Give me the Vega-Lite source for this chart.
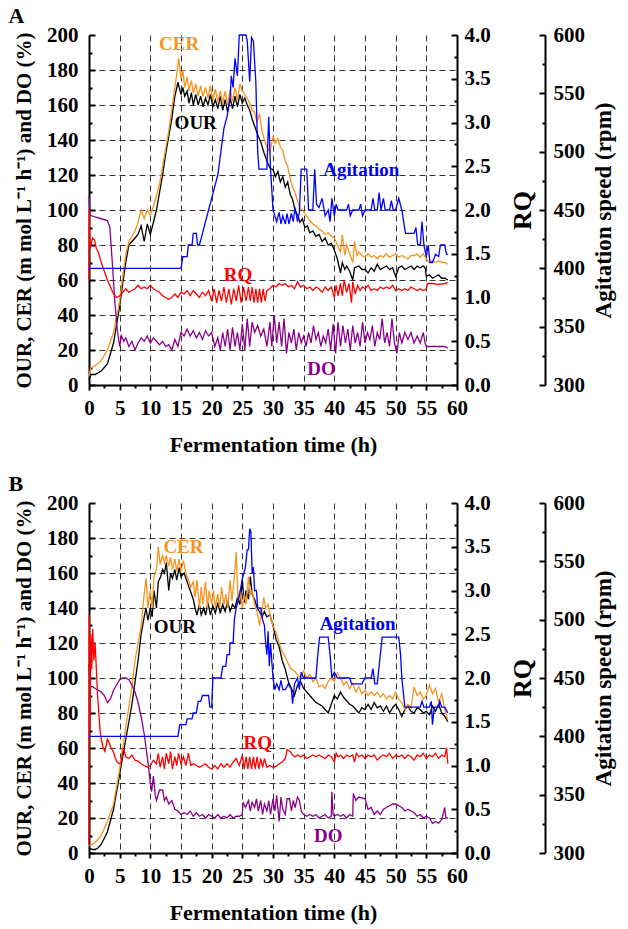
{
"$schema":"https://vega.github.io/schema/vega-lite/v6.json",
"padding":{"left":8,"top":5,"right":5,"bottom":5},
"spacing":18,
"config":{
 "view":{"stroke":null},
 "font":"Liberation Serif",
 "axis":{"labelFont":"Liberation Serif","labelFontWeight":"bold","labelFontSize":21,"labelColor":"#000","labelOverlap":false,"titleFont":"Liberation Serif","titleFontWeight":"bold","titleFontSize":21,"titleColor":"#000","domainColor":"#000","domainWidth":2,"tickColor":"#000","tickWidth":2,"gridColor":"#333","gridDash":[6,4],"gridWidth":1},
 "axisY":{"tickSize":-6,"labelPadding":17},
 "axisX":{"tickSize":5,"labelPadding":7,"labelFlush":false},
 "title":{"font":"Liberation Serif","fontSize":22,"fontWeight":"bold","anchor":"start","frame":"bounds","offset":-4,"dx":-5,"color":"#000"}
},
"datasets":{
"A":[
{"s":"OUR","t":0,"v":3},{"s":"OUR","t":0.3,"v":6},{"s":"OUR","t":1,"v":6},{"s":"OUR","t":2,"v":8},{"s":"OUR","t":3,"v":12},{"s":"OUR","t":4,"v":24},{"s":"OUR","t":5,"v":45},{"s":"OUR","t":5.5,"v":58},{"s":"OUR","t":6,"v":70},{"s":"OUR","t":6.5,"v":80},{"s":"OUR","t":7,"v":82},{"s":"OUR","t":7.5,"v":84},{"s":"OUR","t":8,"v":86},{"s":"OUR","t":8.5,"v":91},{"s":"OUR","t":9,"v":82},{"s":"OUR","t":9.5,"v":92},{"s":"OUR","t":10,"v":86},{"s":"OUR","t":10.5,"v":93},{"s":"OUR","t":11,"v":100},{"s":"OUR","t":11.5,"v":110},{"s":"OUR","t":12,"v":120},{"s":"OUR","t":12.5,"v":132},{"s":"OUR","t":13,"v":142},{"s":"OUR","t":13.5,"v":152},{"s":"OUR","t":14,"v":165},{"s":"OUR","t":14.5,"v":173},{"s":"OUR","t":15,"v":166},{"s":"OUR","t":15.3,"v":170},{"s":"OUR","t":15.6,"v":165},{"s":"OUR","t":16,"v":168},{"s":"OUR","t":16.3,"v":161},{"s":"OUR","t":16.7,"v":167},{"s":"OUR","t":17,"v":160},{"s":"OUR","t":17.4,"v":166},{"s":"OUR","t":17.8,"v":160},{"s":"OUR","t":18.2,"v":165},{"s":"OUR","t":18.6,"v":159},{"s":"OUR","t":19,"v":164},{"s":"OUR","t":19.4,"v":160},{"s":"OUR","t":19.8,"v":166},{"s":"OUR","t":20.2,"v":159},{"s":"OUR","t":20.6,"v":163},{"s":"OUR","t":21,"v":158},{"s":"OUR","t":21.4,"v":165},{"s":"OUR","t":21.8,"v":157},{"s":"OUR","t":22.2,"v":163},{"s":"OUR","t":22.6,"v":156},{"s":"OUR","t":23,"v":164},{"s":"OUR","t":23.4,"v":158},{"s":"OUR","t":23.8,"v":165},{"s":"OUR","t":24.2,"v":159},{"s":"OUR","t":24.6,"v":166},{"s":"OUR","t":25,"v":161},{"s":"OUR","t":25.4,"v":164},{"s":"OUR","t":25.8,"v":160},{"s":"OUR","t":26.2,"v":157},{"s":"OUR","t":26.6,"v":152},{"s":"OUR","t":27,"v":148},{"s":"OUR","t":27.5,"v":143},{"s":"OUR","t":28,"v":139},{"s":"OUR","t":28.5,"v":133},{"s":"OUR","t":29,"v":128},{"s":"OUR","t":29.5,"v":124},{"s":"OUR","t":30,"v":123},{"s":"OUR","t":30.4,"v":119},{"s":"OUR","t":30.8,"v":122},{"s":"OUR","t":31.2,"v":116},{"s":"OUR","t":31.6,"v":119},{"s":"OUR","t":32,"v":113},{"s":"OUR","t":32.4,"v":116},{"s":"OUR","t":32.8,"v":109},{"s":"OUR","t":33.2,"v":106},{"s":"OUR","t":33.6,"v":100},{"s":"OUR","t":34,"v":97},{"s":"OUR","t":34.4,"v":93},{"s":"OUR","t":34.8,"v":95},{"s":"OUR","t":35.2,"v":90},{"s":"OUR","t":35.6,"v":91},{"s":"OUR","t":36,"v":87},{"s":"OUR","t":36.5,"v":88},{"s":"OUR","t":37,"v":85},{"s":"OUR","t":37.5,"v":86},{"s":"OUR","t":38,"v":82},{"s":"OUR","t":38.5,"v":84},{"s":"OUR","t":39,"v":80},{"s":"OUR","t":39.5,"v":81},{"s":"OUR","t":40,"v":77},{"s":"OUR","t":40.5,"v":72},{"s":"OUR","t":41,"v":64},{"s":"OUR","t":41.3,"v":70},{"s":"OUR","t":41.7,"v":66},{"s":"OUR","t":42,"v":68},{"s":"OUR","t":42.5,"v":65},{"s":"OUR","t":43,"v":60},{"s":"OUR","t":43.3,"v":67},{"s":"OUR","t":44,"v":68},{"s":"OUR","t":44.5,"v":66},{"s":"OUR","t":45,"v":66},{"s":"OUR","t":45.5,"v":64},{"s":"OUR","t":46,"v":67},{"s":"OUR","t":46.5,"v":65},{"s":"OUR","t":47,"v":69},{"s":"OUR","t":47.5,"v":66},{"s":"OUR","t":48,"v":67},{"s":"OUR","t":48.5,"v":68},{"s":"OUR","t":49,"v":66},{"s":"OUR","t":49.5,"v":67},{"s":"OUR","t":50,"v":62},{"s":"OUR","t":50.5,"v":67},{"s":"OUR","t":51,"v":68},{"s":"OUR","t":51.5,"v":66},{"s":"OUR","t":52,"v":67},{"s":"OUR","t":52.5,"v":68},{"s":"OUR","t":53,"v":66},{"s":"OUR","t":53.5,"v":68},{"s":"OUR","t":54,"v":67},{"s":"OUR","t":54.5,"v":68},{"s":"OUR","t":54.8,"v":67},{"s":"OUR","t":55,"v":62},{"s":"OUR","t":55.5,"v":63},{"s":"OUR","t":56,"v":61},{"s":"OUR","t":56.5,"v":62},{"s":"OUR","t":57,"v":63},{"s":"OUR","t":57.5,"v":61},{"s":"OUR","t":58,"v":61},{"s":"OUR","t":58.5,"v":60},
{"s":"CER","t":0,"v":5},{"s":"CER","t":0.3,"v":10},{"s":"CER","t":1,"v":11},{"s":"CER","t":2,"v":14},{"s":"CER","t":3,"v":20},{"s":"CER","t":4,"v":30},{"s":"CER","t":5,"v":48},{"s":"CER","t":5.5,"v":62},{"s":"CER","t":6,"v":75},{"s":"CER","t":6.5,"v":82},{"s":"CER","t":7,"v":85},{"s":"CER","t":7.5,"v":88},{"s":"CER","t":8,"v":93},{"s":"CER","t":8.5,"v":100},{"s":"CER","t":9,"v":95},{"s":"CER","t":9.5,"v":100},{"s":"CER","t":10,"v":97},{"s":"CER","t":10.5,"v":102},{"s":"CER","t":11,"v":108},{"s":"CER","t":11.5,"v":115},{"s":"CER","t":12,"v":125},{"s":"CER","t":12.5,"v":135},{"s":"CER","t":13,"v":145},{"s":"CER","t":13.5,"v":158},{"s":"CER","t":14,"v":170},{"s":"CER","t":14.4,"v":180},{"s":"CER","t":14.6,"v":187},{"s":"CER","t":15,"v":175},{"s":"CER","t":15.3,"v":180},{"s":"CER","t":15.6,"v":170},{"s":"CER","t":16,"v":176},{"s":"CER","t":16.3,"v":168},{"s":"CER","t":16.7,"v":174},{"s":"CER","t":17,"v":167},{"s":"CER","t":17.4,"v":172},{"s":"CER","t":17.8,"v":165},{"s":"CER","t":18.2,"v":171},{"s":"CER","t":18.6,"v":165},{"s":"CER","t":19,"v":170},{"s":"CER","t":19.4,"v":164},{"s":"CER","t":19.8,"v":171},{"s":"CER","t":20.2,"v":163},{"s":"CER","t":20.6,"v":169},{"s":"CER","t":21,"v":162},{"s":"CER","t":21.4,"v":168},{"s":"CER","t":21.8,"v":161},{"s":"CER","t":22.2,"v":168},{"s":"CER","t":22.6,"v":160},{"s":"CER","t":23,"v":169},{"s":"CER","t":23.4,"v":162},{"s":"CER","t":23.8,"v":170},{"s":"CER","t":24.2,"v":163},{"s":"CER","t":24.6,"v":172},{"s":"CER","t":25,"v":168},{"s":"CER","t":25.4,"v":166},{"s":"CER","t":25.8,"v":164},{"s":"CER","t":26.2,"v":161},{"s":"CER","t":26.6,"v":157},{"s":"CER","t":27,"v":156},{"s":"CER","t":27.4,"v":150},{"s":"CER","t":27.8,"v":155},{"s":"CER","t":28.2,"v":145},{"s":"CER","t":28.6,"v":140},{"s":"CER","t":29,"v":136},{"s":"CER","t":29.5,"v":133},{"s":"CER","t":30,"v":142},{"s":"CER","t":30.4,"v":138},{"s":"CER","t":30.8,"v":141},{"s":"CER","t":31.2,"v":136},{"s":"CER","t":31.6,"v":134},{"s":"CER","t":32,"v":128},{"s":"CER","t":32.4,"v":125},{"s":"CER","t":32.8,"v":118},{"s":"CER","t":33.2,"v":113},{"s":"CER","t":33.6,"v":110},{"s":"CER","t":34,"v":105},{"s":"CER","t":34.4,"v":101},{"s":"CER","t":34.8,"v":100},{"s":"CER","t":35.2,"v":98},{"s":"CER","t":35.6,"v":96},{"s":"CER","t":36,"v":94},{"s":"CER","t":36.5,"v":92},{"s":"CER","t":37,"v":91},{"s":"CER","t":37.5,"v":89},{"s":"CER","t":38,"v":88},{"s":"CER","t":38.5,"v":86},{"s":"CER","t":39,"v":87},{"s":"CER","t":39.5,"v":85},{"s":"CER","t":40,"v":84},{"s":"CER","t":40.5,"v":80},{"s":"CER","t":41,"v":76},{"s":"CER","t":41.3,"v":86},{"s":"CER","t":41.7,"v":74},{"s":"CER","t":42,"v":80},{"s":"CER","t":42.5,"v":75},{"s":"CER","t":43,"v":70},{"s":"CER","t":43.3,"v":82},{"s":"CER","t":43.7,"v":74},{"s":"CER","t":44,"v":76},{"s":"CER","t":44.5,"v":74},{"s":"CER","t":45,"v":73},{"s":"CER","t":45.5,"v":75},{"s":"CER","t":46,"v":73},{"s":"CER","t":46.5,"v":74},{"s":"CER","t":47,"v":72},{"s":"CER","t":47.5,"v":74},{"s":"CER","t":48,"v":73},{"s":"CER","t":48.5,"v":75},{"s":"CER","t":49,"v":73},{"s":"CER","t":49.5,"v":74},{"s":"CER","t":50,"v":75},{"s":"CER","t":50.5,"v":73},{"s":"CER","t":51,"v":74},{"s":"CER","t":51.5,"v":73},{"s":"CER","t":52,"v":72},{"s":"CER","t":52.5,"v":74},{"s":"CER","t":53,"v":74},{"s":"CER","t":53.5,"v":75},{"s":"CER","t":54,"v":73},{"s":"CER","t":54.5,"v":75},{"s":"CER","t":55,"v":72},{"s":"CER","t":55.5,"v":70},{"s":"CER","t":56,"v":71},{"s":"CER","t":56.5,"v":70},{"s":"CER","t":57,"v":71},{"s":"CER","t":57.5,"v":70},{"s":"CER","t":58,"v":70},{"s":"CER","t":58.5,"v":69},
{"s":"RQ","t":0,"v":1.2},{"s":"RQ","t":0.05,"v":2.0},{"s":"RQ","t":0.15,"v":1.55},{"s":"RQ","t":0.3,"v":1.6},{"s":"RQ","t":0.6,"v":1.68},{"s":"RQ","t":0.9,"v":1.66},{"s":"RQ","t":1.2,"v":1.56},{"s":"RQ","t":1.5,"v":1.52},{"s":"RQ","t":2,"v":1.4},{"s":"RQ","t":2.5,"v":1.3},{"s":"RQ","t":3,"v":1.2},{"s":"RQ","t":3.5,"v":1.12},{"s":"RQ","t":4,"v":1.04},{"s":"RQ","t":4.5,"v":1.0},{"s":"RQ","t":5,"v":1.02},{"s":"RQ","t":5.5,"v":1.06},{"s":"RQ","t":6,"v":1.1},{"s":"RQ","t":6.5,"v":1.06},{"s":"RQ","t":7,"v":1.08},{"s":"RQ","t":7.5,"v":1.1},{"s":"RQ","t":8,"v":1.14},{"s":"RQ","t":8.5,"v":1.1},{"s":"RQ","t":9,"v":1.12},{"s":"RQ","t":9.5,"v":1.1},{"s":"RQ","t":10,"v":1.14},{"s":"RQ","t":10.5,"v":1.1},{"s":"RQ","t":11,"v":1.08},{"s":"RQ","t":11.5,"v":1.06},{"s":"RQ","t":12,"v":1.02},{"s":"RQ","t":12.5,"v":1.0},{"s":"RQ","t":13,"v":0.98},{"s":"RQ","t":13.5,"v":1.0},{"s":"RQ","t":14,"v":1.04},{"s":"RQ","t":14.5,"v":1.0},{"s":"RQ","t":15,"v":1.06},{"s":"RQ","t":15.5,"v":1.04},{"s":"RQ","t":16,"v":1.08},{"s":"RQ","t":16.5,"v":1.02},{"s":"RQ","t":17,"v":1.08},{"s":"RQ","t":17.5,"v":1.04},{"s":"RQ","t":18,"v":1.0},{"s":"RQ","t":18.5,"v":1.06},{"s":"RQ","t":19,"v":1.02},{"s":"RQ","t":19.5,"v":1.08},{"s":"RQ","t":20,"v":0.96},{"s":"RQ","t":20.4,"v":1.1},{"s":"RQ","t":20.8,"v":0.94},{"s":"RQ","t":21.2,"v":1.08},{"s":"RQ","t":21.6,"v":0.96},{"s":"RQ","t":22,"v":1.12},{"s":"RQ","t":22.4,"v":0.94},{"s":"RQ","t":22.8,"v":1.1},{"s":"RQ","t":23.2,"v":0.92},{"s":"RQ","t":23.6,"v":1.1},{"s":"RQ","t":24,"v":0.96},{"s":"RQ","t":24.4,"v":1.14},{"s":"RQ","t":24.8,"v":0.94},{"s":"RQ","t":25.2,"v":1.12},{"s":"RQ","t":25.6,"v":0.96},{"s":"RQ","t":26,"v":1.12},{"s":"RQ","t":26.3,"v":0.96},{"s":"RQ","t":26.6,"v":1.12},{"s":"RQ","t":26.9,"v":0.94},{"s":"RQ","t":27.2,"v":1.1},{"s":"RQ","t":27.5,"v":0.94},{"s":"RQ","t":27.8,"v":1.1},{"s":"RQ","t":28.1,"v":0.94},{"s":"RQ","t":28.4,"v":1.1},{"s":"RQ","t":28.7,"v":0.96},{"s":"RQ","t":29,"v":1.08},{"s":"RQ","t":29.5,"v":1.1},{"s":"RQ","t":30,"v":1.14},{"s":"RQ","t":30.5,"v":1.12},{"s":"RQ","t":31,"v":1.16},{"s":"RQ","t":31.5,"v":1.14},{"s":"RQ","t":32,"v":1.16},{"s":"RQ","t":32.5,"v":1.12},{"s":"RQ","t":33,"v":1.14},{"s":"RQ","t":33.5,"v":1.1},{"s":"RQ","t":34,"v":1.18},{"s":"RQ","t":34.5,"v":1.12},{"s":"RQ","t":35,"v":1.14},{"s":"RQ","t":35.5,"v":1.1},{"s":"RQ","t":36,"v":1.12},{"s":"RQ","t":36.5,"v":1.08},{"s":"RQ","t":37,"v":1.12},{"s":"RQ","t":37.5,"v":1.1},{"s":"RQ","t":38,"v":1.06},{"s":"RQ","t":38.5,"v":1.12},{"s":"RQ","t":39,"v":1.08},{"s":"RQ","t":39.5,"v":1.12},{"s":"RQ","t":40,"v":1.0},{"s":"RQ","t":40.3,"v":1.14},{"s":"RQ","t":40.6,"v":1.02},{"s":"RQ","t":41,"v":1.16},{"s":"RQ","t":41.3,"v":1.02},{"s":"RQ","t":41.6,"v":1.2},{"s":"RQ","t":42,"v":1.06},{"s":"RQ","t":42.4,"v":1.16},{"s":"RQ","t":42.8,"v":0.94},{"s":"RQ","t":43,"v":1.18},{"s":"RQ","t":43.4,"v":1.04},{"s":"RQ","t":43.8,"v":1.14},{"s":"RQ","t":44.2,"v":1.08},{"s":"RQ","t":44.6,"v":1.12},{"s":"RQ","t":45,"v":1.1},{"s":"RQ","t":45.5,"v":1.14},{"s":"RQ","t":46,"v":1.08},{"s":"RQ","t":46.5,"v":1.1},{"s":"RQ","t":47,"v":1.08},{"s":"RQ","t":47.5,"v":1.12},{"s":"RQ","t":48,"v":1.1},{"s":"RQ","t":48.5,"v":1.12},{"s":"RQ","t":49,"v":1.1},{"s":"RQ","t":49.5,"v":1.14},{"s":"RQ","t":50,"v":1.08},{"s":"RQ","t":50.5,"v":1.1},{"s":"RQ","t":51,"v":1.08},{"s":"RQ","t":51.5,"v":1.1},{"s":"RQ","t":52,"v":1.08},{"s":"RQ","t":52.5,"v":1.12},{"s":"RQ","t":53,"v":1.1},{"s":"RQ","t":53.5,"v":1.08},{"s":"RQ","t":54,"v":1.1},{"s":"RQ","t":54.5,"v":1.08},{"s":"RQ","t":55,"v":1.1},{"s":"RQ","t":55.2,"v":1.16},{"s":"RQ","t":56,"v":1.16},{"s":"RQ","t":57,"v":1.15},{"s":"RQ","t":58,"v":1.16},{"s":"RQ","t":58.5,"v":1.17},
{"s":"DO","t":0,"v":108},{"s":"DO","t":0.2,"v":97},{"s":"DO","t":1,"v":96},{"s":"DO","t":2,"v":95},{"s":"DO","t":3,"v":94},{"s":"DO","t":3.4,"v":90},{"s":"DO","t":3.8,"v":70},{"s":"DO","t":4.2,"v":48},{"s":"DO","t":4.6,"v":32},{"s":"DO","t":5,"v":22},{"s":"DO","t":5.3,"v":28},{"s":"DO","t":5.7,"v":25},{"s":"DO","t":6,"v":27},{"s":"DO","t":6.5,"v":22},{"s":"DO","t":7,"v":25},{"s":"DO","t":7.5,"v":20},{"s":"DO","t":8,"v":24},{"s":"DO","t":8.5,"v":27},{"s":"DO","t":9,"v":25},{"s":"DO","t":9.5,"v":28},{"s":"DO","t":10,"v":24},{"s":"DO","t":10.5,"v":27},{"s":"DO","t":11,"v":25},{"s":"DO","t":11.5,"v":23},{"s":"DO","t":12,"v":25},{"s":"DO","t":12.5,"v":22},{"s":"DO","t":13,"v":23},{"s":"DO","t":13.5,"v":20},{"s":"DO","t":14,"v":26},{"s":"DO","t":14.5,"v":22},{"s":"DO","t":15,"v":30},{"s":"DO","t":15.5,"v":28},{"s":"DO","t":16,"v":32},{"s":"DO","t":16.5,"v":28},{"s":"DO","t":17,"v":31},{"s":"DO","t":17.5,"v":27},{"s":"DO","t":18,"v":30},{"s":"DO","t":18.5,"v":26},{"s":"DO","t":19,"v":31},{"s":"DO","t":19.5,"v":28},{"s":"DO","t":20,"v":30},{"s":"DO","t":20.5,"v":22},{"s":"DO","t":21,"v":27},{"s":"DO","t":21.4,"v":20},{"s":"DO","t":21.8,"v":30},{"s":"DO","t":22.2,"v":22},{"s":"DO","t":22.6,"v":32},{"s":"DO","t":23,"v":20},{"s":"DO","t":23.4,"v":33},{"s":"DO","t":23.8,"v":22},{"s":"DO","t":24.2,"v":30},{"s":"DO","t":24.6,"v":20},{"s":"DO","t":25,"v":35},{"s":"DO","t":25.4,"v":20},{"s":"DO","t":25.8,"v":38},{"s":"DO","t":26.2,"v":22},{"s":"DO","t":26.6,"v":36},{"s":"DO","t":27,"v":30},{"s":"DO","t":27.5,"v":34},{"s":"DO","t":28,"v":28},{"s":"DO","t":28.5,"v":32},{"s":"DO","t":29,"v":22},{"s":"DO","t":29.5,"v":36},{"s":"DO","t":29.8,"v":22},{"s":"DO","t":30.2,"v":40},{"s":"DO","t":30.6,"v":24},{"s":"DO","t":31,"v":36},{"s":"DO","t":31.4,"v":22},{"s":"DO","t":31.8,"v":38},{"s":"DO","t":32.2,"v":18},{"s":"DO","t":32.6,"v":30},{"s":"DO","t":33,"v":24},{"s":"DO","t":33.4,"v":32},{"s":"DO","t":33.8,"v":20},{"s":"DO","t":34.2,"v":30},{"s":"DO","t":34.6,"v":24},{"s":"DO","t":35,"v":28},{"s":"DO","t":35.4,"v":22},{"s":"DO","t":35.8,"v":30},{"s":"DO","t":36.2,"v":24},{"s":"DO","t":36.6,"v":34},{"s":"DO","t":37,"v":26},{"s":"DO","t":37.4,"v":30},{"s":"DO","t":37.8,"v":22},{"s":"DO","t":38.2,"v":28},{"s":"DO","t":38.6,"v":24},{"s":"DO","t":39,"v":32},{"s":"DO","t":39.4,"v":20},{"s":"DO","t":39.8,"v":35},{"s":"DO","t":40.2,"v":18},{"s":"DO","t":40.6,"v":36},{"s":"DO","t":41,"v":22},{"s":"DO","t":41.4,"v":34},{"s":"DO","t":41.8,"v":24},{"s":"DO","t":42.2,"v":32},{"s":"DO","t":42.6,"v":20},{"s":"DO","t":43,"v":34},{"s":"DO","t":43.4,"v":24},{"s":"DO","t":43.8,"v":30},{"s":"DO","t":44.2,"v":22},{"s":"DO","t":44.6,"v":36},{"s":"DO","t":45,"v":24},{"s":"DO","t":45.4,"v":30},{"s":"DO","t":45.8,"v":26},{"s":"DO","t":46.2,"v":34},{"s":"DO","t":46.6,"v":22},{"s":"DO","t":47,"v":30},{"s":"DO","t":47.4,"v":26},{"s":"DO","t":47.8,"v":38},{"s":"DO","t":48.2,"v":24},{"s":"DO","t":48.6,"v":30},{"s":"DO","t":49,"v":22},{"s":"DO","t":49.4,"v":38},{"s":"DO","t":49.8,"v":24},{"s":"DO","t":50.2,"v":18},{"s":"DO","t":50.6,"v":30},{"s":"DO","t":51,"v":24},{"s":"DO","t":51.5,"v":30},{"s":"DO","t":52,"v":26},{"s":"DO","t":52.5,"v":30},{"s":"DO","t":53,"v":24},{"s":"DO","t":53.5,"v":28},{"s":"DO","t":54,"v":24},{"s":"DO","t":54.5,"v":30},{"s":"DO","t":54.8,"v":24},{"s":"DO","t":55,"v":22},{"s":"DO","t":56,"v":22},{"s":"DO","t":57,"v":22},{"s":"DO","t":58,"v":22},{"s":"DO","t":58.5,"v":21},
{"s":"Agitation","t":0,"v":400},{"s":"Agitation","t":15,"v":400},{"s":"Agitation","t":15.3,"v":410},{"s":"Agitation","t":16,"v":410},{"s":"Agitation","t":16.2,"v":420},{"s":"Agitation","t":16.8,"v":420},{"s":"Agitation","t":17,"v":430},{"s":"Agitation","t":17.5,"v":430},{"s":"Agitation","t":17.7,"v":420},{"s":"Agitation","t":18,"v":420},{"s":"Agitation","t":18.5,"v":430},{"s":"Agitation","t":19,"v":440},{"s":"Agitation","t":19.5,"v":450},{"s":"Agitation","t":20,"v":460},{"s":"Agitation","t":20.5,"v":470},{"s":"Agitation","t":21,"v":480},{"s":"Agitation","t":21.5,"v":500},{"s":"Agitation","t":22,"v":520},{"s":"Agitation","t":22.5,"v":530},{"s":"Agitation","t":23,"v":545},{"s":"Agitation","t":23.2,"v":565},{"s":"Agitation","t":23.5,"v":555},{"s":"Agitation","t":23.8,"v":580},{"s":"Agitation","t":24.2,"v":565},{"s":"Agitation","t":24.5,"v":600},{"s":"Agitation","t":25.6,"v":600},{"s":"Agitation","t":25.8,"v":595},{"s":"Agitation","t":26.2,"v":560},{"s":"Agitation","t":26.5,"v":598},{"s":"Agitation","t":26.8,"v":595},{"s":"Agitation","t":27.2,"v":560},{"s":"Agitation","t":27.5,"v":500},{"s":"Agitation","t":27.7,"v":485},{"s":"Agitation","t":29,"v":485},{"s":"Agitation","t":29.3,"v":530},{"s":"Agitation","t":29.6,"v":485},{"s":"Agitation","t":30,"v":450},{"s":"Agitation","t":30.3,"v":445},{"s":"Agitation","t":30.6,"v":440},{"s":"Agitation","t":31,"v":448},{"s":"Agitation","t":31.3,"v":438},{"s":"Agitation","t":31.6,"v":445},{"s":"Agitation","t":32,"v":438},{"s":"Agitation","t":32.3,"v":447},{"s":"Agitation","t":32.6,"v":438},{"s":"Agitation","t":33,"v":447},{"s":"Agitation","t":33.3,"v":440},{"s":"Agitation","t":33.6,"v":452},{"s":"Agitation","t":34,"v":440},{"s":"Agitation","t":34.3,"v":448},{"s":"Agitation","t":34.6,"v":485},{"s":"Agitation","t":35.5,"v":485},{"s":"Agitation","t":35.8,"v":450},{"s":"Agitation","t":36.5,"v":450},{"s":"Agitation","t":36.8,"v":485},{"s":"Agitation","t":37.1,"v":455},{"s":"Agitation","t":37.5,"v":452},{"s":"Agitation","t":38,"v":460},{"s":"Agitation","t":38.5,"v":445},{"s":"Agitation","t":39,"v":450},{"s":"Agitation","t":39.3,"v":440},{"s":"Agitation","t":39.6,"v":460},{"s":"Agitation","t":40,"v":445},{"s":"Agitation","t":40.3,"v":455},{"s":"Agitation","t":40.6,"v":450},{"s":"Agitation","t":41,"v":450},{"s":"Agitation","t":42,"v":450},{"s":"Agitation","t":42.3,"v":455},{"s":"Agitation","t":42.6,"v":445},{"s":"Agitation","t":43,"v":450},{"s":"Agitation","t":44,"v":450},{"s":"Agitation","t":44.3,"v":455},{"s":"Agitation","t":44.6,"v":445},{"s":"Agitation","t":45,"v":450},{"s":"Agitation","t":46,"v":450},{"s":"Agitation","t":46.3,"v":460},{"s":"Agitation","t":46.6,"v":450},{"s":"Agitation","t":47,"v":450},{"s":"Agitation","t":47.3,"v":465},{"s":"Agitation","t":47.6,"v":450},{"s":"Agitation","t":48,"v":460},{"s":"Agitation","t":48.3,"v":450},{"s":"Agitation","t":49,"v":450},{"s":"Agitation","t":49.3,"v":458},{"s":"Agitation","t":49.6,"v":450},{"s":"Agitation","t":50,"v":450},{"s":"Agitation","t":50.5,"v":460},{"s":"Agitation","t":51,"v":450},{"s":"Agitation","t":51.3,"v":440},{"s":"Agitation","t":51.6,"v":430},{"s":"Agitation","t":52,"v":430},{"s":"Agitation","t":53,"v":430},{"s":"Agitation","t":53.3,"v":435},{"s":"Agitation","t":53.6,"v":420},{"s":"Agitation","t":54,"v":420},{"s":"Agitation","t":54.3,"v":440},{"s":"Agitation","t":54.6,"v":420},{"s":"Agitation","t":55,"v":410},{"s":"Agitation","t":55.3,"v":420},{"s":"Agitation","t":55.6,"v":405},{"s":"Agitation","t":56,"v":405},{"s":"Agitation","t":56.5,"v":412},{"s":"Agitation","t":57,"v":410},{"s":"Agitation","t":57.3,"v":420},{"s":"Agitation","t":58,"v":420},{"s":"Agitation","t":58.3,"v":412},{"s":"Agitation","t":58.5,"v":412}
],
"B":[
{"s":"OUR","t":0,"v":3},{"s":"OUR","t":0.5,"v":2},{"s":"OUR","t":1,"v":2},{"s":"OUR","t":1.5,"v":3},{"s":"OUR","t":2,"v":5},{"s":"OUR","t":3,"v":12},{"s":"OUR","t":4,"v":25},{"s":"OUR","t":5,"v":45},{"s":"OUR","t":6,"v":65},{"s":"OUR","t":7,"v":85},{"s":"OUR","t":8,"v":110},{"s":"OUR","t":8.5,"v":125},{"s":"OUR","t":9,"v":135},{"s":"OUR","t":9.3,"v":140},{"s":"OUR","t":9.6,"v":133},{"s":"OUR","t":10,"v":140},{"s":"OUR","t":10.3,"v":135},{"s":"OUR","t":10.6,"v":150},{"s":"OUR","t":11,"v":140},{"s":"OUR","t":11.3,"v":155},{"s":"OUR","t":11.7,"v":158},{"s":"OUR","t":12,"v":162},{"s":"OUR","t":12.3,"v":160},{"s":"OUR","t":12.6,"v":166},{"s":"OUR","t":13,"v":150},{"s":"OUR","t":13.3,"v":160},{"s":"OUR","t":13.6,"v":157},{"s":"OUR","t":14,"v":162},{"s":"OUR","t":14.3,"v":156},{"s":"OUR","t":14.7,"v":163},{"s":"OUR","t":15,"v":158},{"s":"OUR","t":15.5,"v":160},{"s":"OUR","t":16,"v":155},{"s":"OUR","t":16.5,"v":150},{"s":"OUR","t":17,"v":145},{"s":"OUR","t":17.3,"v":140},{"s":"OUR","t":17.6,"v":136},{"s":"OUR","t":18,"v":142},{"s":"OUR","t":18.3,"v":136},{"s":"OUR","t":18.7,"v":140},{"s":"OUR","t":19,"v":136},{"s":"OUR","t":19.4,"v":143},{"s":"OUR","t":19.8,"v":136},{"s":"OUR","t":20.2,"v":141},{"s":"OUR","t":20.6,"v":137},{"s":"OUR","t":21,"v":143},{"s":"OUR","t":21.4,"v":137},{"s":"OUR","t":21.8,"v":142},{"s":"OUR","t":22.2,"v":138},{"s":"OUR","t":22.6,"v":144},{"s":"OUR","t":23,"v":138},{"s":"OUR","t":23.4,"v":142},{"s":"OUR","t":23.8,"v":140},{"s":"OUR","t":24.2,"v":146},{"s":"OUR","t":24.6,"v":142},{"s":"OUR","t":25,"v":156},{"s":"OUR","t":25.3,"v":143},{"s":"OUR","t":25.6,"v":150},{"s":"OUR","t":26,"v":145},{"s":"OUR","t":26.3,"v":158},{"s":"OUR","t":26.6,"v":148},{"s":"OUR","t":27,"v":145},{"s":"OUR","t":27.4,"v":140},{"s":"OUR","t":27.8,"v":138},{"s":"OUR","t":28.2,"v":135},{"s":"OUR","t":28.6,"v":138},{"s":"OUR","t":29,"v":135},{"s":"OUR","t":29.5,"v":136},{"s":"OUR","t":30,"v":130},{"s":"OUR","t":30.5,"v":122},{"s":"OUR","t":31,"v":118},{"s":"OUR","t":31.5,"v":110},{"s":"OUR","t":32,"v":105},{"s":"OUR","t":32.5,"v":98},{"s":"OUR","t":33,"v":94},{"s":"OUR","t":33.5,"v":90},{"s":"OUR","t":34,"v":96},{"s":"OUR","t":34.5,"v":98},{"s":"OUR","t":35,"v":94},{"s":"OUR","t":35.5,"v":92},{"s":"OUR","t":36,"v":90},{"s":"OUR","t":36.5,"v":88},{"s":"OUR","t":37,"v":86},{"s":"OUR","t":37.5,"v":85},{"s":"OUR","t":38,"v":84},{"s":"OUR","t":38.5,"v":82},{"s":"OUR","t":39,"v":80},{"s":"OUR","t":39.5,"v":85},{"s":"OUR","t":40,"v":90},{"s":"OUR","t":40.5,"v":88},{"s":"OUR","t":41,"v":92},{"s":"OUR","t":41.5,"v":89},{"s":"OUR","t":42,"v":87},{"s":"OUR","t":42.5,"v":85},{"s":"OUR","t":43,"v":84},{"s":"OUR","t":43.5,"v":82},{"s":"OUR","t":44,"v":80},{"s":"OUR","t":44.5,"v":83},{"s":"OUR","t":45,"v":82},{"s":"OUR","t":45.5,"v":85},{"s":"OUR","t":46,"v":82},{"s":"OUR","t":46.5,"v":86},{"s":"OUR","t":47,"v":83},{"s":"OUR","t":47.5,"v":84},{"s":"OUR","t":48,"v":81},{"s":"OUR","t":48.5,"v":84},{"s":"OUR","t":49,"v":80},{"s":"OUR","t":49.5,"v":83},{"s":"OUR","t":50,"v":85},{"s":"OUR","t":50.5,"v":82},{"s":"OUR","t":51,"v":78},{"s":"OUR","t":51.5,"v":82},{"s":"OUR","t":52,"v":84},{"s":"OUR","t":52.5,"v":81},{"s":"OUR","t":53,"v":80},{"s":"OUR","t":53.5,"v":83},{"s":"OUR","t":54,"v":82},{"s":"OUR","t":54.5,"v":80},{"s":"OUR","t":55,"v":81},{"s":"OUR","t":55.5,"v":79},{"s":"OUR","t":56,"v":84},{"s":"OUR","t":56.5,"v":81},{"s":"OUR","t":57,"v":85},{"s":"OUR","t":57.5,"v":80},{"s":"OUR","t":58,"v":78},{"s":"OUR","t":58.5,"v":75},
{"s":"CER","t":0,"v":4},{"s":"CER","t":0.5,"v":5},{"s":"CER","t":1,"v":6},{"s":"CER","t":1.5,"v":8},{"s":"CER","t":2,"v":10},{"s":"CER","t":3,"v":18},{"s":"CER","t":4,"v":28},{"s":"CER","t":5,"v":48},{"s":"CER","t":6,"v":72},{"s":"CER","t":7,"v":95},{"s":"CER","t":7.5,"v":110},{"s":"CER","t":8,"v":120},{"s":"CER","t":8.5,"v":130},{"s":"CER","t":9,"v":148},{"s":"CER","t":9.3,"v":157},{"s":"CER","t":9.6,"v":140},{"s":"CER","t":10,"v":150},{"s":"CER","t":10.3,"v":140},{"s":"CER","t":10.6,"v":158},{"s":"CER","t":11,"v":162},{"s":"CER","t":11.3,"v":175},{"s":"CER","t":11.6,"v":165},{"s":"CER","t":12,"v":170},{"s":"CER","t":12.3,"v":166},{"s":"CER","t":12.6,"v":170},{"s":"CER","t":13,"v":164},{"s":"CER","t":13.3,"v":169},{"s":"CER","t":13.6,"v":162},{"s":"CER","t":14,"v":168},{"s":"CER","t":14.3,"v":161},{"s":"CER","t":14.7,"v":168},{"s":"CER","t":15,"v":161},{"s":"CER","t":15.4,"v":167},{"s":"CER","t":15.8,"v":160},{"s":"CER","t":16.2,"v":156},{"s":"CER","t":16.6,"v":152},{"s":"CER","t":17,"v":155},{"s":"CER","t":17.3,"v":146},{"s":"CER","t":17.6,"v":156},{"s":"CER","t":18,"v":140},{"s":"CER","t":18.3,"v":152},{"s":"CER","t":18.6,"v":142},{"s":"CER","t":19,"v":155},{"s":"CER","t":19.3,"v":140},{"s":"CER","t":19.6,"v":150},{"s":"CER","t":20,"v":142},{"s":"CER","t":20.3,"v":150},{"s":"CER","t":20.6,"v":140},{"s":"CER","t":21,"v":148},{"s":"CER","t":21.3,"v":140},{"s":"CER","t":21.6,"v":152},{"s":"CER","t":22,"v":142},{"s":"CER","t":22.3,"v":148},{"s":"CER","t":22.6,"v":140},{"s":"CER","t":23,"v":156},{"s":"CER","t":23.3,"v":144},{"s":"CER","t":23.7,"v":158},{"s":"CER","t":24,"v":172},{"s":"CER","t":24.3,"v":145},{"s":"CER","t":24.6,"v":150},{"s":"CER","t":25,"v":140},{"s":"CER","t":25.3,"v":148},{"s":"CER","t":25.6,"v":142},{"s":"CER","t":26,"v":158},{"s":"CER","t":26.3,"v":148},{"s":"CER","t":26.6,"v":150},{"s":"CER","t":27,"v":142},{"s":"CER","t":27.4,"v":138},{"s":"CER","t":27.8,"v":130},{"s":"CER","t":28.2,"v":138},{"s":"CER","t":28.5,"v":146},{"s":"CER","t":28.8,"v":140},{"s":"CER","t":29.2,"v":142},{"s":"CER","t":29.5,"v":136},{"s":"CER","t":30,"v":130},{"s":"CER","t":30.5,"v":126},{"s":"CER","t":31,"v":120},{"s":"CER","t":31.5,"v":115},{"s":"CER","t":32,"v":112},{"s":"CER","t":32.5,"v":108},{"s":"CER","t":33,"v":105},{"s":"CER","t":33.5,"v":104},{"s":"CER","t":34,"v":102},{"s":"CER","t":34.5,"v":100},{"s":"CER","t":35,"v":104},{"s":"CER","t":35.5,"v":100},{"s":"CER","t":36,"v":102},{"s":"CER","t":36.5,"v":98},{"s":"CER","t":37,"v":100},{"s":"CER","t":37.5,"v":95},{"s":"CER","t":38,"v":96},{"s":"CER","t":38.5,"v":94},{"s":"CER","t":39,"v":98},{"s":"CER","t":39.5,"v":100},{"s":"CER","t":40,"v":98},{"s":"CER","t":40.5,"v":103},{"s":"CER","t":41,"v":100},{"s":"CER","t":41.5,"v":96},{"s":"CER","t":42,"v":98},{"s":"CER","t":42.5,"v":94},{"s":"CER","t":43,"v":97},{"s":"CER","t":43.5,"v":92},{"s":"CER","t":44,"v":95},{"s":"CER","t":44.5,"v":91},{"s":"CER","t":45,"v":93},{"s":"CER","t":45.5,"v":90},{"s":"CER","t":46,"v":92},{"s":"CER","t":46.5,"v":90},{"s":"CER","t":47,"v":92},{"s":"CER","t":47.5,"v":89},{"s":"CER","t":48,"v":91},{"s":"CER","t":48.5,"v":88},{"s":"CER","t":49,"v":90},{"s":"CER","t":49.5,"v":88},{"s":"CER","t":50,"v":92},{"s":"CER","t":50.5,"v":88},{"s":"CER","t":51,"v":86},{"s":"CER","t":51.5,"v":82},{"s":"CER","t":52,"v":85},{"s":"CER","t":52.5,"v":83},{"s":"CER","t":53,"v":95},{"s":"CER","t":53.5,"v":90},{"s":"CER","t":54,"v":92},{"s":"CER","t":54.5,"v":88},{"s":"CER","t":55,"v":90},{"s":"CER","t":55.5,"v":96},{"s":"CER","t":56,"v":91},{"s":"CER","t":56.5,"v":94},{"s":"CER","t":57,"v":86},{"s":"CER","t":57.5,"v":91},{"s":"CER","t":58,"v":82},{"s":"CER","t":58.5,"v":76},
{"s":"RQ","t":0,"v":0.1},{"s":"RQ","t":0.05,"v":2.72},{"s":"RQ","t":0.15,"v":1.4},{"s":"RQ","t":0.3,"v":2.5},{"s":"RQ","t":0.45,"v":2.1},{"s":"RQ","t":0.6,"v":2.56},{"s":"RQ","t":0.8,"v":2.2},{"s":"RQ","t":1,"v":2.4},{"s":"RQ","t":1.2,"v":2.1},{"s":"RQ","t":1.4,"v":1.8},{"s":"RQ","t":1.6,"v":1.6},{"s":"RQ","t":1.8,"v":1.4},{"s":"RQ","t":2,"v":1.3},{"s":"RQ","t":2.3,"v":1.2},{"s":"RQ","t":2.6,"v":1.16},{"s":"RQ","t":3,"v":1.3},{"s":"RQ","t":3.3,"v":1.26},{"s":"RQ","t":3.6,"v":1.2},{"s":"RQ","t":4,"v":1.15},{"s":"RQ","t":4.3,"v":1.08},{"s":"RQ","t":4.6,"v":1.04},{"s":"RQ","t":5,"v":1.02},{"s":"RQ","t":5.3,"v":1.05},{"s":"RQ","t":5.6,"v":1.2},{"s":"RQ","t":6,"v":1.1},{"s":"RQ","t":6.5,"v":1.08},{"s":"RQ","t":7,"v":1.12},{"s":"RQ","t":7.5,"v":1.06},{"s":"RQ","t":8,"v":1.05},{"s":"RQ","t":8.5,"v":1.02},{"s":"RQ","t":9,"v":1.0},{"s":"RQ","t":9.5,"v":0.98},{"s":"RQ","t":10,"v":1.0},{"s":"RQ","t":10.5,"v":1.06},{"s":"RQ","t":11,"v":1.02},{"s":"RQ","t":11.3,"v":1.14},{"s":"RQ","t":11.6,"v":0.98},{"s":"RQ","t":12,"v":1.1},{"s":"RQ","t":12.3,"v":0.96},{"s":"RQ","t":12.6,"v":1.14},{"s":"RQ","t":13,"v":1.02},{"s":"RQ","t":13.3,"v":1.16},{"s":"RQ","t":13.6,"v":0.96},{"s":"RQ","t":14,"v":1.1},{"s":"RQ","t":14.3,"v":1.0},{"s":"RQ","t":14.6,"v":1.14},{"s":"RQ","t":15,"v":1.02},{"s":"RQ","t":15.4,"v":1.1},{"s":"RQ","t":15.8,"v":1.0},{"s":"RQ","t":16.2,"v":1.14},{"s":"RQ","t":16.6,"v":1.0},{"s":"RQ","t":17,"v":1.02},{"s":"RQ","t":17.5,"v":1.0},{"s":"RQ","t":18,"v":0.98},{"s":"RQ","t":18.5,"v":1.0},{"s":"RQ","t":19,"v":1.02},{"s":"RQ","t":19.5,"v":0.98},{"s":"RQ","t":20,"v":0.96},{"s":"RQ","t":20.5,"v":1.0},{"s":"RQ","t":21,"v":0.96},{"s":"RQ","t":21.5,"v":1.02},{"s":"RQ","t":22,"v":0.98},{"s":"RQ","t":22.5,"v":1.02},{"s":"RQ","t":23,"v":0.98},{"s":"RQ","t":23.5,"v":1.04},{"s":"RQ","t":24,"v":1.08},{"s":"RQ","t":24.5,"v":1.0},{"s":"RQ","t":25,"v":1.12},{"s":"RQ","t":25.3,"v":0.96},{"s":"RQ","t":25.6,"v":1.1},{"s":"RQ","t":25.9,"v":0.96},{"s":"RQ","t":26.2,"v":1.1},{"s":"RQ","t":26.5,"v":0.96},{"s":"RQ","t":26.8,"v":1.1},{"s":"RQ","t":27.1,"v":0.96},{"s":"RQ","t":27.4,"v":1.1},{"s":"RQ","t":27.7,"v":0.96},{"s":"RQ","t":28,"v":1.08},{"s":"RQ","t":28.3,"v":0.98},{"s":"RQ","t":28.6,"v":1.08},{"s":"RQ","t":29,"v":0.98},{"s":"RQ","t":29.5,"v":1.0},{"s":"RQ","t":30,"v":0.98},{"s":"RQ","t":30.5,"v":0.99},{"s":"RQ","t":31,"v":1.02},{"s":"RQ","t":31.5,"v":1.04},{"s":"RQ","t":32,"v":1.08},{"s":"RQ","t":32.3,"v":1.18},{"s":"RQ","t":32.8,"v":1.16},{"s":"RQ","t":33.2,"v":1.12},{"s":"RQ","t":33.6,"v":1.1},{"s":"RQ","t":34,"v":1.12},{"s":"RQ","t":34.5,"v":1.1},{"s":"RQ","t":35,"v":1.12},{"s":"RQ","t":35.5,"v":1.08},{"s":"RQ","t":36,"v":1.1},{"s":"RQ","t":36.5,"v":1.12},{"s":"RQ","t":37,"v":1.1},{"s":"RQ","t":37.5,"v":1.12},{"s":"RQ","t":38,"v":1.1},{"s":"RQ","t":38.5,"v":1.08},{"s":"RQ","t":39,"v":1.12},{"s":"RQ","t":39.5,"v":1.1},{"s":"RQ","t":40,"v":1.04},{"s":"RQ","t":40.3,"v":1.14},{"s":"RQ","t":40.6,"v":1.1},{"s":"RQ","t":41,"v":1.12},{"s":"RQ","t":41.5,"v":1.08},{"s":"RQ","t":42,"v":1.12},{"s":"RQ","t":42.5,"v":1.1},{"s":"RQ","t":43,"v":1.12},{"s":"RQ","t":43.3,"v":1.04},{"s":"RQ","t":43.6,"v":1.14},{"s":"RQ","t":44,"v":1.1},{"s":"RQ","t":44.5,"v":1.12},{"s":"RQ","t":45,"v":1.08},{"s":"RQ","t":45.5,"v":1.12},{"s":"RQ","t":46,"v":1.1},{"s":"RQ","t":46.5,"v":1.12},{"s":"RQ","t":47,"v":1.06},{"s":"RQ","t":47.5,"v":1.1},{"s":"RQ","t":48,"v":1.12},{"s":"RQ","t":48.5,"v":1.1},{"s":"RQ","t":49,"v":1.14},{"s":"RQ","t":49.5,"v":1.08},{"s":"RQ","t":50,"v":1.12},{"s":"RQ","t":50.5,"v":1.1},{"s":"RQ","t":51,"v":1.12},{"s":"RQ","t":51.5,"v":1.08},{"s":"RQ","t":52,"v":1.12},{"s":"RQ","t":52.5,"v":1.1},{"s":"RQ","t":53,"v":1.06},{"s":"RQ","t":53.5,"v":1.12},{"s":"RQ","t":54,"v":1.1},{"s":"RQ","t":54.5,"v":1.14},{"s":"RQ","t":55,"v":1.08},{"s":"RQ","t":55.5,"v":1.12},{"s":"RQ","t":56,"v":1.1},{"s":"RQ","t":56.5,"v":1.14},{"s":"RQ","t":57,"v":1.08},{"s":"RQ","t":57.5,"v":1.12},{"s":"RQ","t":58,"v":1.1},{"s":"RQ","t":58.3,"v":1.2},{"s":"RQ","t":58.5,"v":1.02},
{"s":"DO","t":0,"v":108},{"s":"DO","t":0.2,"v":95},{"s":"DO","t":0.6,"v":95},{"s":"DO","t":1,"v":94},{"s":"DO","t":1.5,"v":93},{"s":"DO","t":2,"v":92},{"s":"DO","t":2.5,"v":90},{"s":"DO","t":3,"v":86},{"s":"DO","t":3.5,"v":88},{"s":"DO","t":4,"v":93},{"s":"DO","t":4.5,"v":96},{"s":"DO","t":5,"v":99},{"s":"DO","t":5.5,"v":100},{"s":"DO","t":6,"v":100},{"s":"DO","t":6.5,"v":99},{"s":"DO","t":7,"v":96},{"s":"DO","t":7.5,"v":92},{"s":"DO","t":8,"v":86},{"s":"DO","t":8.5,"v":78},{"s":"DO","t":9,"v":68},{"s":"DO","t":9.5,"v":55},{"s":"DO","t":10,"v":40},{"s":"DO","t":10.2,"v":35},{"s":"DO","t":10.5,"v":44},{"s":"DO","t":10.8,"v":33},{"s":"DO","t":11,"v":30},{"s":"DO","t":11.5,"v":36},{"s":"DO","t":12,"v":36},{"s":"DO","t":12.3,"v":30},{"s":"DO","t":12.6,"v":32},{"s":"DO","t":13,"v":28},{"s":"DO","t":13.5,"v":30},{"s":"DO","t":14,"v":25},{"s":"DO","t":14.5,"v":24},{"s":"DO","t":15,"v":22},{"s":"DO","t":15.5,"v":23},{"s":"DO","t":16,"v":22},{"s":"DO","t":16.5,"v":24},{"s":"DO","t":17,"v":21},{"s":"DO","t":17.5,"v":23},{"s":"DO","t":18,"v":21},{"s":"DO","t":18.5,"v":22},{"s":"DO","t":19,"v":20},{"s":"DO","t":19.5,"v":22},{"s":"DO","t":20,"v":21},{"s":"DO","t":20.5,"v":20},{"s":"DO","t":21,"v":22},{"s":"DO","t":21.5,"v":20},{"s":"DO","t":22,"v":21},{"s":"DO","t":22.5,"v":20},{"s":"DO","t":23,"v":22},{"s":"DO","t":23.5,"v":20},{"s":"DO","t":24,"v":21},{"s":"DO","t":24.5,"v":21},{"s":"DO","t":25,"v":22},{"s":"DO","t":25.1,"v":29},{"s":"DO","t":25.5,"v":26},{"s":"DO","t":26,"v":30},{"s":"DO","t":26.3,"v":24},{"s":"DO","t":26.6,"v":29},{"s":"DO","t":27,"v":26},{"s":"DO","t":27.3,"v":31},{"s":"DO","t":27.6,"v":24},{"s":"DO","t":28,"v":30},{"s":"DO","t":28.3,"v":22},{"s":"DO","t":28.6,"v":28},{"s":"DO","t":29,"v":24},{"s":"DO","t":29.3,"v":30},{"s":"DO","t":29.6,"v":22},{"s":"DO","t":30,"v":31},{"s":"DO","t":30.3,"v":24},{"s":"DO","t":30.6,"v":33},{"s":"DO","t":31,"v":18},{"s":"DO","t":31.3,"v":32},{"s":"DO","t":31.6,"v":25},{"s":"DO","t":32,"v":22},{"s":"DO","t":32.3,"v":31},{"s":"DO","t":32.7,"v":31},{"s":"DO","t":33,"v":24},{"s":"DO","t":33.3,"v":30},{"s":"DO","t":33.6,"v":26},{"s":"DO","t":34,"v":32},{"s":"DO","t":34.3,"v":30},{"s":"DO","t":34.6,"v":24},{"s":"DO","t":35,"v":22},{"s":"DO","t":35.5,"v":21},{"s":"DO","t":36,"v":22},{"s":"DO","t":36.5,"v":21},{"s":"DO","t":37,"v":22},{"s":"DO","t":37.5,"v":20},{"s":"DO","t":38,"v":21},{"s":"DO","t":38.5,"v":22},{"s":"DO","t":39,"v":20},{"s":"DO","t":39.5,"v":21},{"s":"DO","t":39.6,"v":35},{"s":"DO","t":39.8,"v":22},{"s":"DO","t":40,"v":21},{"s":"DO","t":40.5,"v":22},{"s":"DO","t":41,"v":21},{"s":"DO","t":41.5,"v":22},{"s":"DO","t":42,"v":20},{"s":"DO","t":42.5,"v":22},{"s":"DO","t":43,"v":21},{"s":"DO","t":43.1,"v":34},{"s":"DO","t":43.5,"v":30},{"s":"DO","t":44,"v":32},{"s":"DO","t":45,"v":31},{"s":"DO","t":45.5,"v":25},{"s":"DO","t":46,"v":26},{"s":"DO","t":46.5,"v":22},{"s":"DO","t":47,"v":24},{"s":"DO","t":47.5,"v":22},{"s":"DO","t":48,"v":25},{"s":"DO","t":48.5,"v":26},{"s":"DO","t":49,"v":27},{"s":"DO","t":49.5,"v":28},{"s":"DO","t":50,"v":28},{"s":"DO","t":50.5,"v":27},{"s":"DO","t":51,"v":26},{"s":"DO","t":51.5,"v":24},{"s":"DO","t":52,"v":25},{"s":"DO","t":52.5,"v":24},{"s":"DO","t":53,"v":23},{"s":"DO","t":53.5,"v":21},{"s":"DO","t":54,"v":22},{"s":"DO","t":54.5,"v":20},{"s":"DO","t":55,"v":21},{"s":"DO","t":55.5,"v":20},{"s":"DO","t":56,"v":17},{"s":"DO","t":56.5,"v":18},{"s":"DO","t":57,"v":17},{"s":"DO","t":57.5,"v":19},{"s":"DO","t":58,"v":26},{"s":"DO","t":58.2,"v":20},{"s":"DO","t":58.5,"v":20},
{"s":"Agitation","t":0,"v":400},{"s":"Agitation","t":14.5,"v":400},{"s":"Agitation","t":14.8,"v":410},{"s":"Agitation","t":15.8,"v":410},{"s":"Agitation","t":16,"v":415},{"s":"Agitation","t":16.8,"v":415},{"s":"Agitation","t":17,"v":420},{"s":"Agitation","t":17.5,"v":420},{"s":"Agitation","t":17.8,"v":430},{"s":"Agitation","t":18.2,"v":430},{"s":"Agitation","t":18.5,"v":435},{"s":"Agitation","t":19.5,"v":435},{"s":"Agitation","t":19.7,"v":425},{"s":"Agitation","t":20,"v":425},{"s":"Agitation","t":20.2,"v":450},{"s":"Agitation","t":21.5,"v":450},{"s":"Agitation","t":21.8,"v":460},{"s":"Agitation","t":22.3,"v":460},{"s":"Agitation","t":22.5,"v":470},{"s":"Agitation","t":22.9,"v":470},{"s":"Agitation","t":23,"v":480},{"s":"Agitation","t":23.5,"v":480},{"s":"Agitation","t":23.7,"v":500},{"s":"Agitation","t":24,"v":510},{"s":"Agitation","t":24.5,"v":520},{"s":"Agitation","t":25,"v":535},{"s":"Agitation","t":25.5,"v":545},{"s":"Agitation","t":25.8,"v":560},{"s":"Agitation","t":26,"v":560},{"s":"Agitation","t":26.2,"v":578},{"s":"Agitation","t":26.4,"v":575},{"s":"Agitation","t":26.6,"v":540},{"s":"Agitation","t":26.8,"v":545},{"s":"Agitation","t":27,"v":525},{"s":"Agitation","t":27.3,"v":525},{"s":"Agitation","t":27.5,"v":510},{"s":"Agitation","t":28,"v":510},{"s":"Agitation","t":28.3,"v":500},{"s":"Agitation","t":28.6,"v":495},{"s":"Agitation","t":28.8,"v":480},{"s":"Agitation","t":29,"v":470},{"s":"Agitation","t":29.2,"v":490},{"s":"Agitation","t":29.4,"v":460},{"s":"Agitation","t":29.6,"v":480},{"s":"Agitation","t":30,"v":450},{"s":"Agitation","t":30.3,"v":440},{"s":"Agitation","t":30.6,"v":445},{"s":"Agitation","t":31,"v":440},{"s":"Agitation","t":31.3,"v":448},{"s":"Agitation","t":31.6,"v":440},{"s":"Agitation","t":32,"v":440},{"s":"Agitation","t":32.5,"v":445},{"s":"Agitation","t":33,"v":440},{"s":"Agitation","t":33.2,"v":428},{"s":"Agitation","t":33.5,"v":445},{"s":"Agitation","t":34,"v":450},{"s":"Agitation","t":34.3,"v":440},{"s":"Agitation","t":34.6,"v":455},{"s":"Agitation","t":35,"v":450},{"s":"Agitation","t":36,"v":450},{"s":"Agitation","t":37,"v":450},{"s":"Agitation","t":37.3,"v":470},{"s":"Agitation","t":37.6,"v":485},{"s":"Agitation","t":39,"v":485},{"s":"Agitation","t":39.3,"v":470},{"s":"Agitation","t":39.6,"v":450},{"s":"Agitation","t":40,"v":455},{"s":"Agitation","t":40.5,"v":450},{"s":"Agitation","t":41,"v":450},{"s":"Agitation","t":42,"v":450},{"s":"Agitation","t":42.5,"v":450},{"s":"Agitation","t":42.8,"v":445},{"s":"Agitation","t":44,"v":445},{"s":"Agitation","t":44.5,"v":445},{"s":"Agitation","t":45,"v":450},{"s":"Agitation","t":46,"v":450},{"s":"Agitation","t":46.3,"v":458},{"s":"Agitation","t":46.6,"v":445},{"s":"Agitation","t":47,"v":445},{"s":"Agitation","t":47.5,"v":470},{"s":"Agitation","t":47.8,"v":485},{"s":"Agitation","t":50.5,"v":485},{"s":"Agitation","t":50.8,"v":470},{"s":"Agitation","t":51,"v":450},{"s":"Agitation","t":51.5,"v":425},{"s":"Agitation","t":54,"v":425},{"s":"Agitation","t":54.3,"v":430},{"s":"Agitation","t":54.6,"v":425},{"s":"Agitation","t":55,"v":425},{"s":"Agitation","t":55.5,"v":425},{"s":"Agitation","t":55.8,"v":430},{"s":"Agitation","t":56,"v":410},{"s":"Agitation","t":56.3,"v":425},{"s":"Agitation","t":57,"v":425},{"s":"Agitation","t":57.2,"v":430},{"s":"Agitation","t":57.5,"v":425},{"s":"Agitation","t":58,"v":425},{"s":"Agitation","t":58.5,"v":420}
],
"labA":[{"s":"CER","t":14.7,"v":195},{"s":"OUR","t":17.4,"v":150},{"s":"Agitation","t":44.4,"v":123},{"s":"RQ","t":24.3,"v":63},{"s":"DO","t":37.9,"v":9}],
"labB":[{"s":"CER","t":15.4,"v":175},{"s":"OUR","t":14.0,"v":129},{"s":"Agitation","t":43.8,"v":131},{"s":"RQ","t":27.5,"v":63},{"s":"DO","t":39.0,"v":10}]
},
"vconcat":[
{"title":{"text":"A"},"width":368,"height":350,"data":{"name":"A"},
"encoding":{
 "x":{"field":"t","type":"quantitative","scale":{"domain":[0,60],"nice":false},"axis":{"values":[0,2.5,5,7.5,10,12.5,15,17.5,20,22.5,25,27.5,30,32.5,35,37.5,40,42.5,45,47.5,50,52.5,55,57.5,60],"labelOverlap":false,"labelFlush":false,"labelExpr":"datum.value % 5 === 0 ? format(datum.value, 'd') : ''","tickSize":{"condition":{"test":"datum.value % 5 !== 0","value":3},"value":5},"title":"Fermentation time (h)","grid":true,"gridOpacity":{"condition":{"test":"datum.value % 5 !== 0","value":0},"value":1},"titlePadding":16,"titleFontSize":22}}
},
"layer":[
{"transform":[{"filter":"datum.s==='DO'||datum.s==='CER'||datum.s==='OUR'"}],
 "mark":{"type":"line","strokeWidth":1.3},
 "encoding":{
  "y":{"field":"v","type":"quantitative","scale":{"domain":[0,200],"nice":false},"axis":{"values":[0,10,20,30,40,50,60,70,80,90,100,110,120,130,140,150,160,170,180,190,200],"labelOverlap":false,"labelExpr":"datum.value % 20 === 0 ? format(datum.value, 'd') : ''","tickSize":{"condition":{"test":"datum.value % 20 !== 0","value":-3},"value":-6},"title":"OUR, CER (m mol L⁻¹ h⁻¹) and DO (%)","grid":true,"gridOpacity":{"condition":{"test":"datum.value===200 || datum.value % 20 !== 0","value":0},"value":1},"titlePadding":12}},
  "color":{"field":"s","type":"nominal","scale":{"domain":["OUR","CER","DO","RQ","Agitation"],"range":["#000000","#F7931E","#8B008B","#FF0000","#0000FF"]},"legend":null}}},
{"transform":[{"filter":"datum.s==='RQ'"}],
 "mark":{"type":"line","strokeWidth":1.3},
 "encoding":{
  "y":{"field":"v","type":"quantitative","scale":{"domain":[0,4],"nice":false,"zero":false},"axis":{"orient":"right","values":[0,0.25,0.5,0.75,1,1.25,1.5,1.75,2,2.25,2.5,2.75,3,3.25,3.5,3.75,4],"labelOverlap":false,"labelExpr":"(datum.value*4) % 2 === 0 ? format(datum.value, '.1f') : ''","tickSize":{"condition":{"test":"(datum.value*4) % 2 !== 0","value":-3},"value":-6},"labelPadding":13,"title":"RQ","titleFontSize":26,"titleAngle":-90,"titleBaseline":"top","titlePadding":19,"grid":false}},
  "color":{"field":"s","type":"nominal","legend":null}}},
{"transform":[{"filter":"datum.s==='Agitation'"}],
 "mark":{"type":"line","strokeWidth":1.3},
 "encoding":{
  "y":{"field":"v","type":"quantitative","scale":{"domain":[300,600],"nice":false,"zero":false},"axis":{"orient":"right","offset":88,"values":[300,325,350,375,400,425,450,475,500,525,550,575,600],"labelOverlap":false,"labelExpr":"datum.value % 50 === 0 ? format(datum.value, 'd') : ''","tickSize":{"condition":{"test":"datum.value % 50 !== 0","value":-3},"value":-6},"labelPadding":14,"title":"Agitation speed (rpm)","titleFontSize":23,"titleAngle":-90,"titleBaseline":"top","titlePadding":8,"grid":false}},
  "color":{"field":"s","type":"nominal","legend":null}}},
{"data":{"name":"labA"},
 "mark":{"type":"text","font":"Liberation Serif","fontWeight":"bold","fontSize":19,"align":"center","baseline":"middle"},
 "encoding":{
  "y":{"field":"v","type":"quantitative","scale":{"domain":[0,200],"nice":false},"axis":null},
  "text":{"field":"s"},
  "color":{"field":"s","type":"nominal","legend":null}}}
],
"resolve":{"scale":{"y":"independent"}}},
{"title":{"text":"B"},"width":368,"height":350,"data":{"name":"B"},
"encoding":{
 "x":{"field":"t","type":"quantitative","scale":{"domain":[0,60],"nice":false},"axis":{"values":[0,2.5,5,7.5,10,12.5,15,17.5,20,22.5,25,27.5,30,32.5,35,37.5,40,42.5,45,47.5,50,52.5,55,57.5,60],"labelOverlap":false,"labelFlush":false,"labelExpr":"datum.value % 5 === 0 ? format(datum.value, 'd') : ''","tickSize":{"condition":{"test":"datum.value % 5 !== 0","value":3},"value":5},"title":"Fermentation time (h)","grid":true,"gridOpacity":{"condition":{"test":"datum.value % 5 !== 0","value":0},"value":1},"titlePadding":16,"titleFontSize":22}}
},
"layer":[
{"transform":[{"filter":"datum.s==='DO'||datum.s==='CER'||datum.s==='OUR'"}],
 "mark":{"type":"line","strokeWidth":1.3},
 "encoding":{
  "y":{"field":"v","type":"quantitative","scale":{"domain":[0,200],"nice":false},"axis":{"values":[0,10,20,30,40,50,60,70,80,90,100,110,120,130,140,150,160,170,180,190,200],"labelOverlap":false,"labelExpr":"datum.value % 20 === 0 ? format(datum.value, 'd') : ''","tickSize":{"condition":{"test":"datum.value % 20 !== 0","value":-3},"value":-6},"title":"OUR, CER (m mol L⁻¹ h⁻¹) and DO (%)","grid":true,"gridOpacity":{"condition":{"test":"datum.value===200 || datum.value % 20 !== 0","value":0},"value":1},"titlePadding":12}},
  "color":{"field":"s","type":"nominal","legend":null}}},
{"transform":[{"filter":"datum.s==='RQ'"}],
 "mark":{"type":"line","strokeWidth":1.3},
 "encoding":{
  "y":{"field":"v","type":"quantitative","scale":{"domain":[0,4],"nice":false,"zero":false},"axis":{"orient":"right","values":[0,0.25,0.5,0.75,1,1.25,1.5,1.75,2,2.25,2.5,2.75,3,3.25,3.5,3.75,4],"labelOverlap":false,"labelExpr":"(datum.value*4) % 2 === 0 ? format(datum.value, '.1f') : ''","tickSize":{"condition":{"test":"(datum.value*4) % 2 !== 0","value":-3},"value":-6},"labelPadding":13,"title":"RQ","titleFontSize":26,"titleAngle":-90,"titleBaseline":"top","titlePadding":19,"grid":false}},
  "color":{"field":"s","type":"nominal","legend":null}}},
{"transform":[{"filter":"datum.s==='Agitation'"}],
 "mark":{"type":"line","strokeWidth":1.3},
 "encoding":{
  "y":{"field":"v","type":"quantitative","scale":{"domain":[300,600],"nice":false,"zero":false},"axis":{"orient":"right","offset":88,"values":[300,325,350,375,400,425,450,475,500,525,550,575,600],"labelOverlap":false,"labelExpr":"datum.value % 50 === 0 ? format(datum.value, 'd') : ''","tickSize":{"condition":{"test":"datum.value % 50 !== 0","value":-3},"value":-6},"labelPadding":14,"title":"Agitation speed (rpm)","titleFontSize":23,"titleAngle":-90,"titleBaseline":"top","titlePadding":8,"grid":false}},
  "color":{"field":"s","type":"nominal","legend":null}}},
{"data":{"name":"labB"},
 "mark":{"type":"text","font":"Liberation Serif","fontWeight":"bold","fontSize":19,"align":"center","baseline":"middle"},
 "encoding":{
  "y":{"field":"v","type":"quantitative","scale":{"domain":[0,200],"nice":false},"axis":null},
  "text":{"field":"s"},
  "color":{"field":"s","type":"nominal","legend":null}}}
],
"resolve":{"scale":{"y":"independent"}}}
]
}
